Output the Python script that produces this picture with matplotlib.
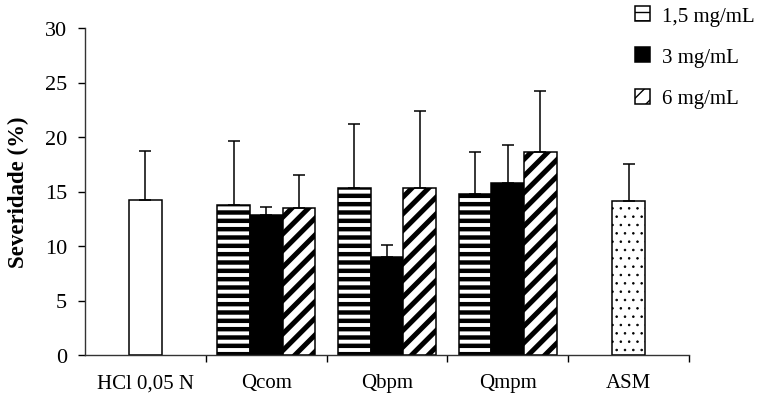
import numpy as np
import matplotlib
matplotlib.use("Agg")
import matplotlib.pyplot as plt

plt.rcParams['font.family'] = ['Liberation Serif', 'DejaVu Serif']
plt.rcParams['font.size'] = 15

# Severidade (%) por tratamento
grupos = ['HCl 0,05 N', 'Qcom', 'Qbpm', 'Qmpm', 'ASM']
doses = ['1,5 mg/mL', '3 mg/mL', '6 mg/mL']

hcl_media = [14.2]
hcl_dp = [4.5]

# Qcom, Qbpm, Qmpm para cada dose
q_media_15 = [13.8, 15.35, 14.8]
q_dp_15 = [5.8, 5.8, 3.8]
q_media_3 = [12.8, 9.0, 15.8]
q_dp_3 = [0.8, 1.1, 3.5]
q_media_6 = [13.5, 15.35, 18.6]
q_dp_6 = [3.0, 7.0, 5.6]

asm_media = [14.1]
asm_dp = [3.4]

largura = 0.27
borda = 1.1

fig = plt.figure(figsize=(7.61, 4.10), dpi=100)
ax = fig.add_axes([85 / 761, 54 / 410, 604 / 761, 327 / 410])

x = np.arange(len(grupos))
xq = x[1:4]


def barras(pos, alturas, erros, hatch_lw, **kw):
    with plt.rc_context({'hatch.linewidth': hatch_lw}):
        b = ax.bar(pos, alturas, largura, edgecolor='black',
                   linewidth=borda, zorder=2, **kw)
    ax.errorbar(pos, alturas, yerr=[np.zeros(len(erros)), erros], fmt='none',
                ecolor='black', elinewidth=1.1, capsize=4, capthick=1.1,
                zorder=3)
    return b


barras(x[:1], hcl_media, hcl_dp, 1.0, color='white')
b15 = barras(xq - largura, q_media_15, q_dp_15, 3.2, color='white',
             hatch='--', label=doses[0])
b3 = barras(xq, q_media_3, q_dp_3, 1.0, color='black', label=doses[1])
b6 = barras(xq + largura, q_media_6, q_dp_6, 3.6, color='white',
            hatch='//', label=doses[2])
barras(x[4:], asm_media, asm_dp, 0.6, color='white', hatch='..')

ax.set_xlim(-0.5, 4.5)
ax.set_ylim(0, 30)
ax.set_yticks(np.arange(0, 31, 5))
ax.set_xticks(x)
ax.set_xticklabels(grupos)
ax.set_xticks(np.arange(0.5, 5, 1), minor=True)
ax.tick_params(axis='x', which='major', length=0, pad=13)
ax.tick_params(axis='x', which='minor', length=5, width=1, direction='out')
ax.tick_params(axis='y', length=5, width=1, direction='out', pad=8,
               labelsize=16)
ax.spines['top'].set_visible(False)
ax.spines['right'].set_visible(False)
for s in ('left', 'bottom'):
    ax.spines[s].set_linewidth(1)
    ax.spines[s].set_color('#333333')

ax.set_ylabel('Severidade (%)', fontweight='bold', fontsize=16.5, labelpad=11)

fig.legend(handles=[b15, b3, b6], labels=doses, loc='upper left',
           bbox_to_anchor=(635 / 761, 403 / 410), frameon=False,
           borderpad=0, borderaxespad=0, handlelength=0.7, handleheight=0.7,
           handletextpad=0.6, labelspacing=1.05)

fig.savefig('out.png', dpi=100)
